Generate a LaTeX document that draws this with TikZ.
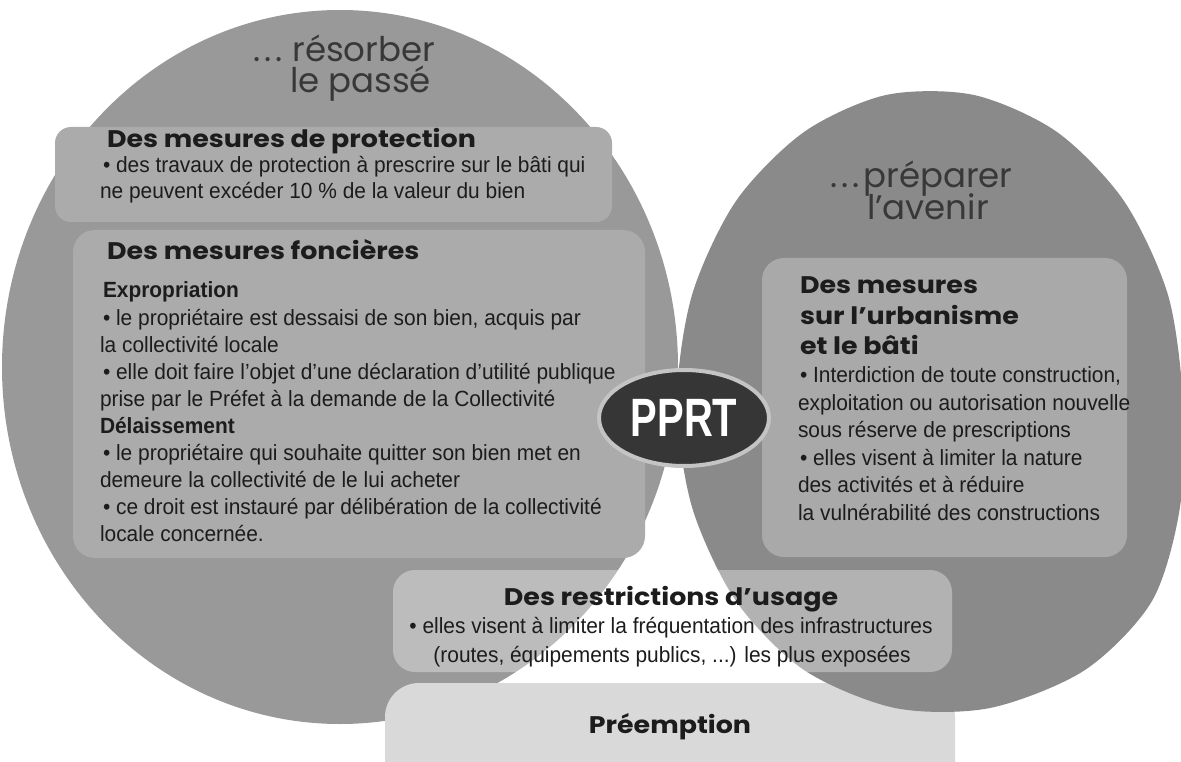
\documentclass[tikz,border=0pt]{standalone}
\usepackage{fontspec}
\usetikzlibrary{shapes.geometric}
\setmainfont{Liberation Sans}
\newfontfamily\bodyf[FakeStretch=0.95]{Liberation Sans}
\newfontfamily\pprtf[FakeStretch=0.74]{Liberation Sans}
\newfontfamily\geof{Poppins}
\newfontfamily\geow[FakeStretch=1.12]{Poppins}
\definecolor{ellL}{HTML}{999999}
\definecolor{ellR}{HTML}{8A8A8A}
\definecolor{boxL}{HTML}{ABABAB}
\definecolor{boxR}{HTML}{A9A9A9}
\definecolor{preem}{HTML}{D9D9D9}
\definecolor{ink}{HTML}{1C1C1C}
\definecolor{titleink}{HTML}{383838}
\definecolor{pprtfill}{HTML}{363636}
\definecolor{pprtring}{HTML}{C4C4C4}
\begin{document}
\begin{tikzpicture}[x=1pt,y=-1pt,
  txt/.style={anchor=base west, inner sep=0pt, outer sep=0pt, text=ink,
              font=\bodyf\fontsize{22}{26}\selectfont},
  txtb/.style={txt, font=\bodyf\bfseries\fontsize{22}{26}\selectfont},
  txtc/.style={txt, anchor=base},
  head/.style={anchor=base west, inner sep=0pt, outer sep=0pt, text=ink,
              font=\geow\bfseries\fontsize{24}{28}\selectfont},
  headc/.style={head, anchor=base},
  ttl/.style={anchor=base west, inner sep=0pt, outer sep=0pt, text=titleink,
              font=\geof\fontsize{34}{40}\selectfont},
  panel/.style={rounded corners=22pt},
]
\useasboundingbox (0,0) rectangle (1181,762);
\fill[white] (0,0) rectangle (1181,762);

% left circle
\fill[ellL] (340,367) ellipse [x radius=338, y radius=357];

% preemption area
\fill[preem, rounded corners=34pt] (385,683) rectangle (955,800);

% right circle
\fill[ellR] plot[smooth cycle] coordinates {
 (1183,401) (1180,507) (1152,601) (1085,670) (990,708) (895,708)
 (804,670) (736,601) (692,507) (677,401) (692,295) (736,201)
 (804,132) (886,95) (974,95) (1057,132) (1124,201) (1168,295)};

% panels
\fill[boxL, rounded corners=16pt] (55,127) rectangle (612,222);
\fill[boxL, panel] (73,230) rectangle (645,558);
\fill[boxR, panel] (762,258) rectangle (1127,557);
\fill[white, fill opacity=0.35, panel] (393,570) rectangle (952,672);

% titles
\node[ttl] (t1) at (253,62) {.\kern4pt.\kern4pt.\kern10pt résorber};
\node[ttl] (t2) at (290,93) {le passé};
\node[ttl] (t3) at (830,188) {.\kern4pt.\kern4pt.\kern4ptpréparer};
\node[ttl] (t4) at (867,220) {l’avenir};

% protection
\node[head] (hp) at (107,148) {Des mesures de protection};
\node[txt] (p1) at (103,173) {• des travaux de protection à prescrire sur le bâti qui};
\node[txt] (p2) at (100,199) {ne peuvent excéder 10 \% de la valeur du bien};

% foncieres
\node[head] (hf) at (107,259) {Des mesures foncières};
\node[txtb] (f0) at (103,298) {Expropriation};
\node[txt] (f1) at (103,325) {• le propriétaire est dessaisi de son bien, acquis par};
\node[txt] (f2) at (100,352) {la collectivité locale};
\node[txt] (f3) at (103,379) {• elle doit faire l’objet d’une déclaration d’utilité publique};
\node[txt] (f4) at (100,406) {prise par le Préfet à la demande de la Collectivité};
\node[txtb] (f5) at (100,433) {Délaissement};
\node[txt] (f6) at (103,460) {• le propriétaire qui souhaite quitter son bien met en};
\node[txt] (f7) at (100,487) {demeure la collectivité de le lui acheter};
\node[txt] (f8) at (103,514) {• ce droit est instauré par délibération de la collectivité};
\node[txt] (f9) at (100,541) {locale concernée.};

% urbanisme
\node[head] (hu1) at (800,294) {Des mesures};
\node[head] (hu2) at (800,324) {sur l’urbanisme};
\node[head] (hu3) at (800,354) {et le bâti};
\node[txt] (u1) at (800,382) {• Interdiction de toute construction,};
\node[txt] (u2) at (798,410) {exploitation ou autorisation nouvelle};
\node[txt] (u3) at (798,437.5) {sous réserve de prescriptions};
\node[txt] (u4) at (800,465) {• elles visent à limiter la nature};
\node[txt] (u5) at (798,492.5) {des activités et à réduire};
\node[txt] (u6) at (798,520) {la vulnérabilité des constructions};

% restrictions
\node[headc] (hr) at (671,605) {Des restrictions d’usage};
\node[txtc] (r1) at (671,633) {• elles visent à limiter la fréquentation des infrastructures};
\node[txtc] (r2) at (672,662) {(routes, équipements publics, ...) les plus exposées};

% preemption
\node[headc] (hpe) at (670,733) {Préemption};

% PPRT
\node[ellipse, fill=pprtfill, draw=pprtring, line width=4pt,
      minimum width=170pt, minimum height=96pt, inner sep=0pt,
      text=white, font=\pprtf\bfseries\fontsize{54}{54}\selectfont] (pprt) at (684,418) {PPRT};
\end{tikzpicture}
\end{document}
